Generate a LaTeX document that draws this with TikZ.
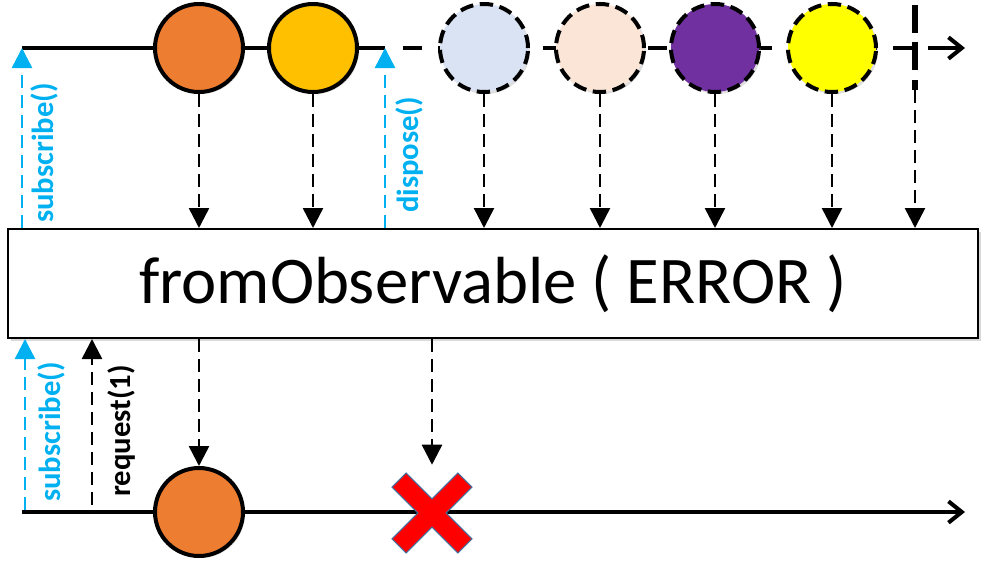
\documentclass[tikz,border=0pt]{standalone}
\usepackage{fontspec}
\setmainfont{Carlito}
\usetikzlibrary{positioning,arrows.meta,shadows}

\definecolor{callblue}{RGB}{0,176,240}
\definecolor{orangeA}{RGB}{237,125,49}
\definecolor{goldA}{RGB}{255,192,0}
\definecolor{paleblue}{RGB}{218,227,243}
\definecolor{palepeach}{RGB}{251,229,214}
\definecolor{purpleA}{RGB}{112,48,160}
\definecolor{yellowA}{RGB}{255,255,0}
\definecolor{crossedge}{RGB}{65,113,156}

\begin{document}
\begin{tikzpicture}[x=0.75pt, y=-0.75pt,
	marble/.style={circle, draw=black, line width=3pt, minimum size=66pt, inner sep=0pt, drop shadow={shadow xshift=1.5pt, shadow yshift=-1.5pt, opacity=0.25}},
	ghost/.style={marble, dash pattern=on 10pt off 5pt},
	timeline/.style={line width=3pt},
	emit/.style={line width=1.9pt, dash pattern=on 10pt off 5pt, -{Triangle[length=15pt,width=15pt]}},
	call/.style={emit, draw=callblue},
	calltext/.style={rotate=90, inner sep=0pt, font=\bfseries\fontsize{23}{23}\selectfont, text=callblue},
	endtip/.style={-{Straight Barb[length=10pt,width=16pt,line width=3pt]}}]

	\useasboundingbox (0,0) rectangle (1002,571);

	\coordinate (t0) at (22,48);
	\coordinate (tcut) at (385,48);
	\coordinate (dash0) at (403,48);
	\coordinate (bar) at (912,48);
	\coordinate (dash1) at (928,48);
	\coordinate (tend) at (965,48);
	\coordinate (bartop) at (915,5);
	\coordinate (barbot) at (915,90);
	\coordinate (b0) at (22,512);
	\coordinate (bend) at (965,512);
	\coordinate (bsub) at (25,510);
	\coordinate (breq) at (92,505);

	\draw[timeline] (t0) -- (tcut);
	\draw[timeline, dash pattern=on 14.25pt off 12pt] (dash0) -- (bar);
	\draw[timeline, endtip] (dash1) -- (tend);
	\draw[line width=4.5pt, dash pattern=on 21pt off 7pt] (bartop) -- (barbot);
	\draw[timeline, endtip] (b0) -- (bend);

	\node[marble, fill=orangeA] (c1) at (199,48) {};
	\node[marble, fill=goldA] (c2) at (313,48) {};
	\node[ghost, fill=paleblue] (g1) at (484,48) {};
	\node[ghost, fill=palepeach] (g2) at (600,48) {};
	\node[ghost, fill=purpleA] (g3) at (715,48) {};
	\node[ghost, fill=yellowA] (g4) at (832,48) {};

	\node[draw, line width=1.5pt, fill=white, minimum width=727.5pt, minimum height=81.75pt, font=\fontsize{50}{50}\selectfont, drop shadow={shadow xshift=2pt, shadow yshift=-2pt, opacity=0.3}] (op) at (493,283.5) {fromObservable ( ERROR )};

	\node[marble, fill=orangeA] (b1) at (199,512) {};
	\node[minimum size=60pt, inner sep=0pt] (err) at (432,513) {};
	\fill[red, draw=crossedge, line width=0.75pt, shift={(err.center)}, rotate=45] (-10,-46.6) -- (10,-46.6) -- (10,-10) -- (46.6,-10) -- (46.6,10) -- (10,10) -- (10,46.6) -- (-10,46.6) -- (-10,10) -- (-46.6,10) -- (-46.6,-10) -- (-10,-10) -- cycle;

	\draw[emit] (c1) -- (c1 |- op.north);
	\draw[emit] (c2) -- (c2 |- op.north);
	\draw[emit] (g1) -- (g1 |- op.north);
	\draw[emit] (g2) -- (g2 |- op.north);
	\draw[emit] (g3) -- (g3 |- op.north);
	\draw[emit] (g4) -- (g4 |- op.north);
	\draw[emit] (barbot) -- (barbot |- op.north);

	\draw[call] (op.north -| t0) -- (t0);
	\draw[call] (op.north -| tcut) -- (tcut);
	\draw[call] (bsub) -- (op.south -| bsub);
	\draw[emit] (breq) -- (op.south -| breq);

	\draw[emit] (op.south -| b1) -- (b1);
	\draw[emit, shorten >=6pt] (op.south -| err) -- (err.north);

	\node[calltext] (subtop) at (44,153) {subscribe()};
	\node[calltext] (disp) at (410,155) {dispose()};
	\node[calltext] (subbot) at (51,432) {subscribe()};
	\node[calltext, text=black] (req) at (122,431) {request(1)};

\end{tikzpicture}
\end{document}
